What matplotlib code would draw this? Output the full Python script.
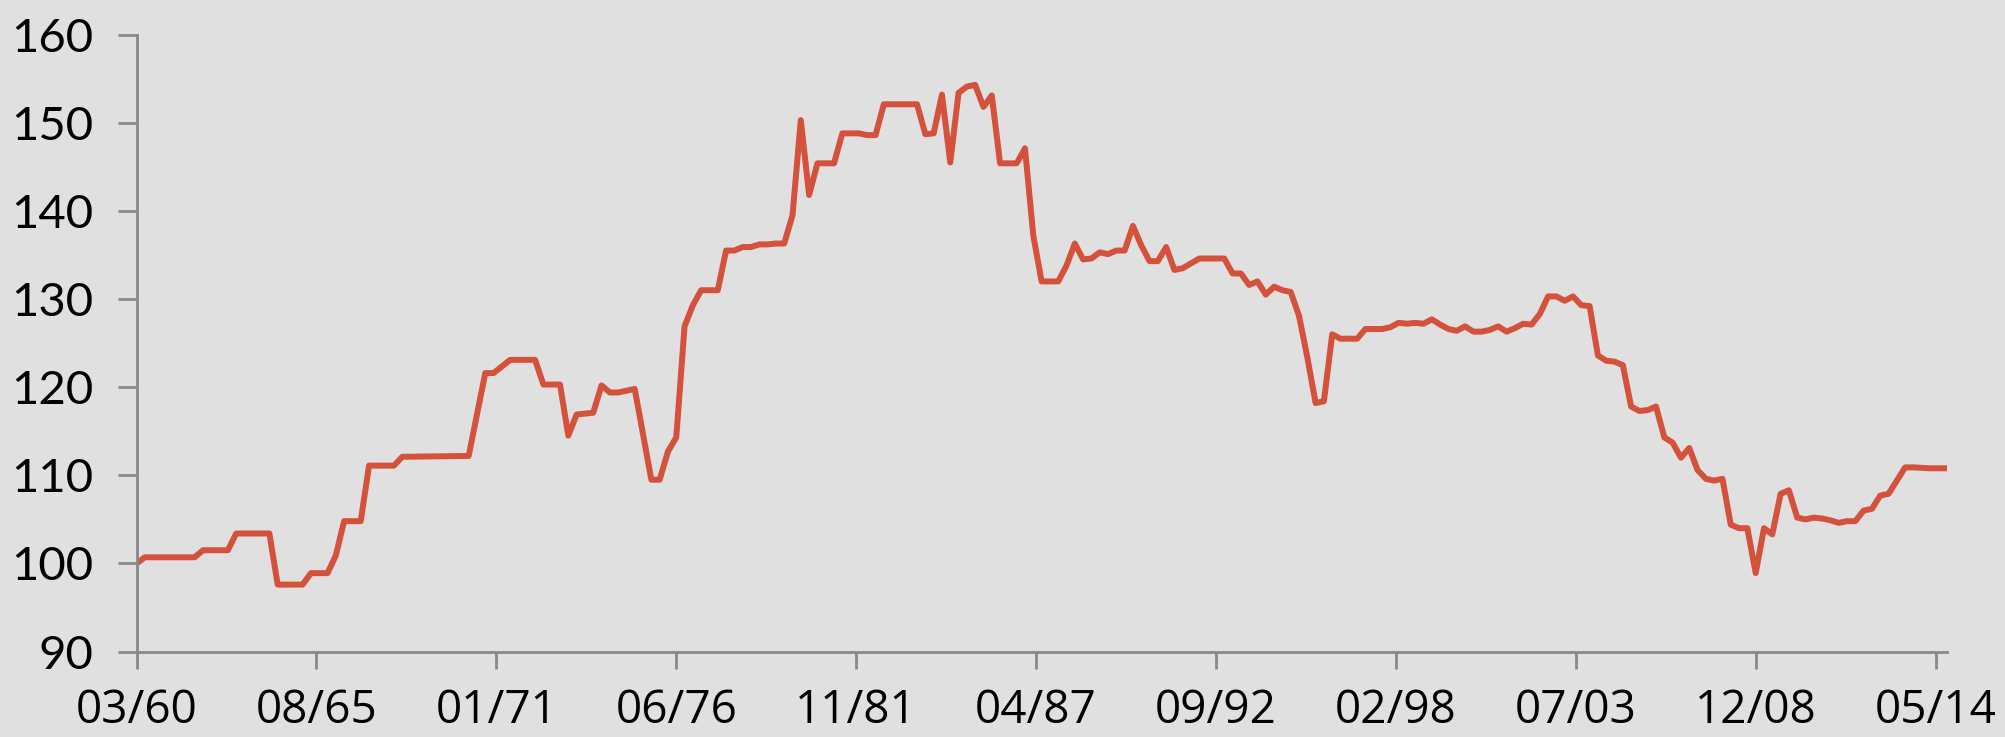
import matplotlib.pyplot as plt
import numpy as np

# Datos trimestrales (vértices)
quarters = [
    "1960Q1", "1960Q2", "1961Q4", "1962Q1", "1962Q4", "1963Q1", "1964Q1", "1964Q2",
    "1965Q1", "1965Q2", "1965Q4", "1966Q1", "1966Q2", "1966Q4", "1967Q1", "1967Q4",
    "1968Q1", "1970Q1", "1970Q3", "1970Q4", "1971Q2", "1972Q1", "1972Q2", "1972Q4",
    "1973Q1", "1973Q2", "1973Q4", "1974Q1", "1974Q2", "1974Q3", "1975Q1", "1975Q3",
    "1975Q4", "1976Q1", "1976Q2", "1976Q3", "1976Q4", "1977Q1", "1977Q3", "1977Q4",
    "1978Q1", "1978Q2", "1978Q3", "1978Q4", "1979Q1", "1979Q2", "1979Q3", "1979Q4",
    "1980Q1", "1980Q2", "1980Q3", "1981Q1", "1981Q2", "1981Q4", "1982Q1", "1982Q2",
    "1982Q3", "1983Q3", "1983Q4", "1984Q1", "1984Q2", "1984Q3", "1984Q4", "1985Q1",
    "1985Q2", "1985Q3", "1985Q4", "1986Q1", "1986Q3", "1986Q4", "1987Q1", "1987Q2",
    "1987Q4", "1988Q1", "1988Q2", "1988Q3", "1988Q4", "1989Q1", "1989Q2", "1989Q3",
    "1989Q4", "1990Q1", "1990Q2", "1990Q3", "1990Q4", "1991Q1", "1991Q2", "1991Q3",
    "1992Q1", "1992Q4", "1993Q1", "1993Q2", "1993Q3", "1993Q4", "1994Q1", "1994Q2",
    "1994Q3", "1994Q4", "1995Q1", "1995Q2", "1995Q3", "1995Q4", "1996Q1", "1996Q2",
    "1996Q4", "1997Q1", "1997Q3", "1997Q4", "1998Q1", "1998Q2", "1998Q3", "1998Q4",
    "1999Q1", "1999Q2", "1999Q3", "1999Q4", "2000Q1", "2000Q2", "2000Q3", "2000Q4",
    "2001Q1", "2001Q2", "2001Q3", "2001Q4", "2002Q1", "2002Q2", "2002Q3", "2002Q4",
    "2003Q1", "2003Q2", "2003Q3", "2003Q4", "2004Q1", "2004Q2", "2004Q3", "2004Q4",
    "2005Q1", "2005Q2", "2005Q3", "2005Q4", "2006Q1", "2006Q2", "2006Q3", "2006Q4",
    "2007Q1", "2007Q2", "2007Q3", "2007Q4", "2008Q1", "2008Q2", "2008Q3", "2008Q4",
    "2009Q1", "2009Q2", "2009Q3", "2009Q4", "2010Q1", "2010Q2", "2010Q3", "2010Q4",
    "2011Q1", "2011Q2", "2011Q3", "2011Q4", "2012Q1", "2012Q2", "2012Q3", "2012Q4",
    "2013Q1", "2013Q2", "2013Q3", "2014Q1", "2014Q3",
]
values = [
    100.0, 100.7, 100.7, 101.5, 101.5, 103.4, 103.4, 97.6,
    97.6, 98.9, 98.9, 100.9, 104.8, 104.8, 111.1, 111.1,
    112.1, 112.2, 121.6, 121.6, 123.1, 123.1, 120.3, 120.3,
    114.5, 116.9, 117.1, 120.2, 119.4, 119.4, 119.8, 109.5,
    109.5, 112.7, 114.3, 126.9, 129.3, 131.0, 131.0, 135.5,
    135.5, 135.9, 135.9, 136.2, 136.2, 136.3, 136.3, 139.5,
    150.3, 141.8, 145.4, 145.4, 148.8, 148.8, 148.6, 148.6,
    152.1, 152.1, 148.7, 148.8, 153.2, 145.5, 153.4, 154.1,
    154.3, 151.8, 153.1, 145.4, 145.4, 147.1, 137.2, 132.0,
    132.0, 133.8, 136.3, 134.5, 134.6, 135.3, 135.1, 135.5,
    135.5, 138.3, 136.1, 134.3, 134.3, 135.9, 133.3, 133.5,
    134.6, 134.6, 132.9, 132.9, 131.6, 132.0, 130.5, 131.4,
    131.0, 130.8, 128.1, 123.4, 118.2, 118.4, 126.0, 125.5,
    125.5, 126.6, 126.6, 126.8, 127.3, 127.2, 127.3, 127.2,
    127.7, 127.1, 126.6, 126.4, 126.9, 126.3, 126.3, 126.5,
    126.9, 126.3, 126.7, 127.2, 127.1, 128.3, 130.3, 130.3,
    129.8, 130.3, 129.3, 129.2, 123.6, 123.0, 122.9, 122.5,
    117.8, 117.3, 117.4, 117.8, 114.3, 113.7, 112.0, 113.1,
    110.6, 109.6, 109.4, 109.6, 104.4, 104.0, 104.0, 98.9,
    104.0, 103.3, 107.9, 108.3, 105.2, 105.0, 105.2, 105.1,
    104.9, 104.6, 104.8, 104.8, 106.0, 106.2, 107.7, 107.9,
    109.4, 110.9, 110.9, 110.8, 110.8,
]
tick_labels = ["03/60", "08/65", "01/71", "06/76", "11/81", "04/87",
               "09/92", "02/98", "07/03", "12/08", "05/14"]

# Meses desde marzo de 1960
x = np.array([(int(q[:4]) - 1960) * 12 + (int(q[5]) - 1) * 3 for q in quarters])

bg = "#e0e0e0"
fig = plt.figure(figsize=(20.05, 7.37), dpi=100, facecolor=bg)
ax = fig.add_axes([0.0681, 0.1159, 0.9028, 0.8371], facecolor=bg)

ax.plot(x, values, color="#d4513b", linewidth=4.3, solid_joinstyle="round")

ax.set_xlim(0, x[-1])
ax.set_ylim(90, 160)
ax.set_yticks(np.arange(90, 161, 10))
ax.set_xticks(np.arange(0, 651, 65))
ax.set_xticklabels(tick_labels)

for s in ["top", "right"]:
    ax.spines[s].set_visible(False)
for s in ["left", "bottom"]:
    ax.spines[s].set_color("#888888")
    ax.spines[s].set_linewidth(2)

ax.tick_params(axis="y", length=14, width=2, color="#888888", pad=17, labelsize=34)
ax.tick_params(axis="x", length=12, width=2, color="#888888", pad=14, labelsize=33)
for lab in ax.get_yticklabels():
    lab.set_fontfamily("Lato")
for lab in ax.get_xticklabels():
    lab.set_fontfamily("Open Sans")

fig.savefig("out.png", dpi=100, facecolor=bg)
